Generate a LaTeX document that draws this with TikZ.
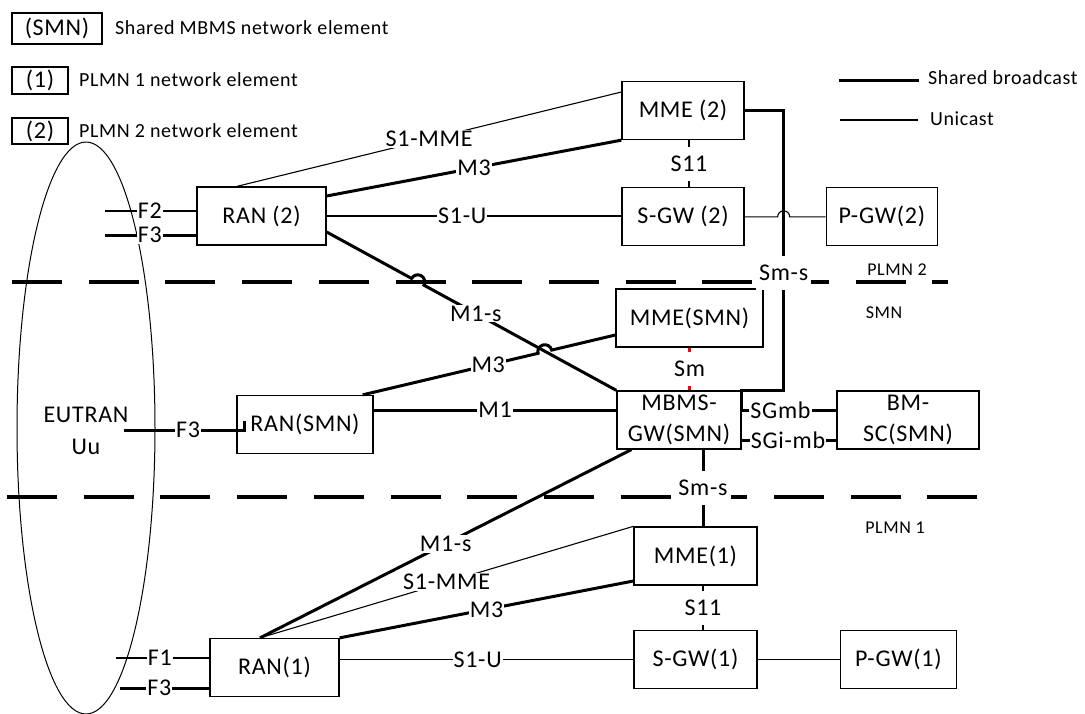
\documentclass[tikz,border=0pt]{standalone}
\usepackage{fontspec}
\setmainfont{Carlito}[LetterSpace=3]
\usetikzlibrary{positioning, calc}

\begin{document}
\begin{tikzpicture}[x=1pt, y=-1pt, node distance=47pt,
  every node/.style={font=\fontsize{24}{31}\selectfont},
  elem/.style={draw, line width=1.3pt, minimum height=58pt, inner sep=2pt, align=center},
  lbl/.style={fill=white, text=black, inner sep=1pt},
  vlbl/.style={fill=white, text=black, inner xsep=3pt, inner ysep=9pt},
  bcast/.style={line width=3pt},
  ucast/.style={line width=1.1pt},
  legtxt/.style={font=\fontsize{20}{22}\selectfont, anchor=west, inner sep=0pt},
  areatxt/.style={font=\fontsize{18}{20}\selectfont},
  border/.style={line width=3.2pt, dash pattern=on 50pt off 26.7pt}]
\useasboundingbox (0,0) rectangle (1085,713);

\draw[line width=1pt] (86,428) ellipse [x radius=69pt, y radius=286pt];
\node[align=center] (eutran) at (86,431) {EUTRAN\\[1pt]Uu};

\coordinate (b2l) at (12,282);
\coordinate (b2r) at (948,282);
\coordinate (b1l) at (7,497);
\coordinate (b1r) at (977,497);
\draw[border] (b2l) -- (b2r);
\draw[border] (b1l) -- (b1r);

\node[elem, minimum width=90pt, minimum height=31pt] (legsmn) at (57,28.5) {(SMN)};
\node[legtxt] (legsmntxt) at (115,28) {Shared MBMS network element};
\node[elem, minimum width=56pt, minimum height=27pt] (leg1) at (40,80.5) {(1)};
\node[legtxt] (leg1txt) at (79,80) {PLMN 1 network element};
\node[elem, minimum width=56pt, minimum height=26pt] (leg2) at (40,131) {(2)};
\node[legtxt] (leg2txt) at (79,131) {PLMN 2 network element};

\node[legtxt] (bctxt) at (928,78) {Shared broadcast};
\node[legtxt] (uctxt) at (930,119) {Unicast};
\coordinate (bc1) at (839,80);
\coordinate (uc1) at (840,120);
\draw[bcast] (bc1) -- (bc1 -| {$(bctxt.west)+(-9pt,0)$});
\draw[ucast] (uc1) -- (uc1 -| {$(uctxt.west)+(-12pt,0)$});

\node[areatxt] (plmn2) at (897,270) {PLMN 2};
\node[areatxt] (smn) at (884,313) {SMN};
\node[areatxt] (plmn1) at (895,528) {PLMN 1};

\node[elem, minimum width=122pt] (mme2) at (683,110.5) {MME (2)};
\node[elem, minimum width=122pt, below=of mme2] (sgw2) {S-GW (2)};
\node[elem, minimum width=111pt, right=81pt of sgw2] (pgw2) {P-GW(2)};
\node[elem, minimum width=129pt] (ran2) at (261.5,216) {RAN (2)};
\node[elem, minimum width=147pt] (mmesmn) at (689.5,318) {MME(SMN)};
\node[elem, minimum width=124pt] (mbms) at (679,420) {MBMS-\\GW(SMN)};
\node[elem, minimum width=142pt] (bmsc) at (908,420) {BM-\\SC(SMN)};
\node[elem, minimum width=136pt] (ransmn) at (305,424.5) {RAN(SMN)};
\node[elem, minimum width=123pt] (mme1) at (695.5,556) {MME(1)};
\node[elem, minimum width=123pt, below=44pt of mme1] (sgw1) {S-GW(1)};
\node[elem, minimum width=116pt, right=82pt of sgw1] (pgw1) {P-GW(1)};
\node[elem, minimum width=129pt] (ran1) at (274.5,667.5) {RAN(1)};

\coordinate (f2a) at (105,211);
\coordinate (f3a) at (105,235);
\coordinate (f3b) at (124,430);
\coordinate (f1c) at (116,658);
\coordinate (f3c) at (120,688);
\draw[ucast] (f2a) -- node[lbl, pos=0.49]{F2} (f2a -| ran2.west);
\draw[bcast] (f3a) -- node[lbl, pos=0.49]{F3} (f3a -| ran2.west);
\draw[bcast] (f3b) -- node[lbl, pos=0.57]{F3} (f3b -| ransmn.west) -- ++(8,0) -- ++(0,-9);
\draw[ucast] (f1c) -- node[lbl, pos=0.47]{F1} (f1c -| ran1.west);
\draw[bcast] (f3c) -- node[lbl, pos=0.44]{F3} (f3c -| ran1.west);

\draw[ucast] ([xshift=-24.5pt]ran2.north) -- node[lbl]{S1-MME} ([yshift=18.5pt]mme2.west);
\draw[bcast] ([yshift=20pt]ran2.east) -- node[lbl]{M3} (mme2.south west);
\draw[ucast] (ran2.east) -- node[lbl, pos=0.46]{S1-U} (ran2.east -| sgw2.west);
\draw[ucast] ([xshift=6pt]mme2.south) -- node[vlbl]{S11} ([xshift=6pt]sgw2.north);

\coordinate (smsbend) at ([xshift=39pt]mme2.east);
\draw[ucast] (sgw2.east) -- ([xshift=-6pt]smsbend |- sgw2.east)
  arc[start angle=180, end angle=0, radius=6pt] -- (pgw2.west);
\draw[bcast] (mme2.east) -- (smsbend) |- node[vlbl, pos=0.29]{Sm-s} (mbms.north east)
  -- ([yshift=10pt]mbms.east);

\coordinate (m1sA) at ([yshift=-16pt]ran2.east);
\coordinate (m1sB) at (mbms.north west);
\coordinate (hopa) at ($(m1sA)!0.3145!(m1sB)$);
\draw[bcast] (m1sA) -- ($(hopa)!7pt!(m1sA)$)
  arc[start angle=151.35, end angle=-28.65, radius=7pt]
  -- node[lbl, pos=0.27]{M1-s} (m1sB);

\coordinate (m3A) at ([xshift=-11pt]ransmn.north east);
\coordinate (m3B) at ([yshift=-17pt]mmesmn.west);
\coordinate (hopb) at ($(m3A)!0.721!(m3B)$);
\draw[bcast] (m3A) -- node[lbl, pos=0.716]{M3} ($(hopb)!7pt!(m3A)$)
  arc[start angle=193.29, end angle=13.29, radius=7pt] -- (m3B);

\draw[bcast] ([yshift=14.5pt]ransmn.east) -- node[lbl]{M1} ([yshift=14.5pt]ransmn.east -| mbms.west);
\draw[line width=2.2pt, red] (mmesmn.south) -- node[vlbl]{Sm} (mmesmn.south |- mbms.north);
\draw[bcast] ([yshift=10pt]mbms.east) -- node[lbl, pos=0.41]{SGmb} ([yshift=10pt]bmsc.west);
\draw[bcast] ([yshift=-20pt]mbms.east) -- node[lbl, pos=0.49]{SGi-mb} ([yshift=-20pt]bmsc.west);

\coordinate (smsb) at ([xshift=7.5pt]mme1.north);
\draw[bcast] (smsb |- mbms.south) -- node[vlbl]{Sm-s} (smsb);
\draw[bcast] ([xshift=-14.5pt]ran1.north) -- node[lbl]{M1-s} ([xshift=15pt]mbms.south west);
\draw[ucast] ([xshift=-14.5pt]ran1.north) -- node[lbl]{S1-MME} (mme1.north west);
\draw[bcast] (ran1.north east) -- node[lbl]{M3} ([yshift=-25pt]mme1.west);
\draw[ucast] (ran1.east |- sgw1.west) -- node[lbl, pos=0.47]{S1-U} (sgw1.west);
\draw[ucast] ([xshift=7.5pt]mme1.south) -- node[vlbl]{S11} ([xshift=7.5pt]sgw1.north);
\draw[ucast] (sgw1) -- (pgw1);
\end{tikzpicture}
\end{document}
